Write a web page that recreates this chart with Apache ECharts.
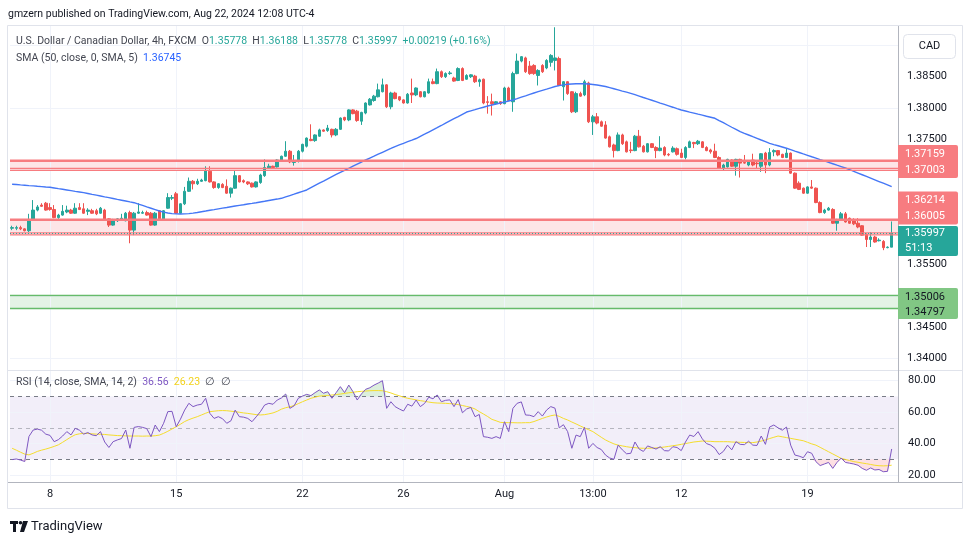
<!DOCTYPE html>
<html><head><meta charset="utf-8">
<script src="https://cdn.jsdelivr.net/npm/echarts@6/dist/echarts.min.js"></script>
<style>html,body{margin:0;padding:0;background:#fff;}#c{width:970px;height:545px;}</style>
</head><body><div id="c"></div>
<script>
// ---------- data (USD/CAD 4h, FXCM) ----------
const opens = [
1.3608,1.3608,1.3609,1.3607,1.3604,1.3622,1.3637,1.3645,1.3648,1.3641,
1.3638,1.3625,1.3629,1.3634,1.3637,1.3632,1.3641,1.3639,1.3635,1.3636,
1.3636,1.3632,1.3637,1.3623,1.3613,1.3620,1.3621,1.3620,1.3633,1.3605,
1.3632,1.3632,1.3633,1.3632,1.3613,1.3636,1.3623,1.3640,1.3656,1.3663,
1.3632,1.3647,1.3667,1.3683,1.3679,1.3683,1.3684,1.3699,1.3682,1.3673,
1.3678,1.3675,1.3664,1.3672,1.3692,1.3684,1.3682,1.3680,1.3674,1.3681,
1.3692,1.3704,1.3707,1.3706,1.3716,1.3723,1.3731,1.3713,1.3715,1.3731,
1.3739,1.3750,1.3748,1.3755,1.3765,1.3764,1.3766,1.3757,1.3766,1.3785,
1.3781,1.3797,1.3795,1.3779,1.3792,1.3805,1.3812,1.3818,1.3826,1.3837,
1.3802,1.3824,1.3818,1.3813,1.3808,1.3824,1.3821,1.3826,1.3818,1.3824,
1.3842,1.3839,1.3858,1.3850,1.3855,1.3848,1.3844,1.3863,1.3846,1.3850,
1.3851,1.3842,1.3846,1.3810,1.3810,1.3807,1.3810,1.3807,1.3832,1.3810,
1.3855,1.3875,1.3880,1.3867,1.3868,1.3852,1.3868,1.3864,1.3873,1.3876,
1.3879,1.3834,1.3842,1.3826,1.3794,1.3823,1.3821,1.3840,1.3778,1.3786,
1.3778,1.3773,1.3754,1.3741,1.3732,1.3757,1.3746,1.3733,1.3732,1.3755,
1.3739,1.3730,1.3743,1.3737,1.3732,1.3737,1.3726,1.3730,1.3735,1.3728,
1.3721,1.3737,1.3745,1.3743,1.3746,1.3737,1.3733,1.3731,1.3721,1.3704,
1.3706,1.3717,1.3707,1.3718,1.3713,1.3709,1.3717,1.3712,1.3707,1.3728,
1.3709,1.3730,1.3732,1.3726,1.3721,1.3728,1.3696,1.3680,1.3672,1.3664,
1.3674,1.3672,1.3649,1.3633,1.3637,1.3638,1.3616,1.3622,1.3631,1.3624,
1.3621,1.3616,1.3612,1.3598,1.3590,1.3594,1.3588,1.3587,1.3577,1.35778];
const closes = [
1.3609,1.3609,1.3607,1.3604,1.3622,1.3637,1.3642,1.3643,1.3637,1.3638,
1.3625,1.3629,1.3635,1.3637,1.3632,1.3640,1.3638,1.3632,1.3637,1.3632,
1.3631,1.3640,1.3622,1.3613,1.3620,1.3623,1.3624,1.3632,1.3605,1.3632,
1.3634,1.3633,1.3629,1.3613,1.3632,1.3623,1.3636,1.3657,1.3657,1.3632,
1.3647,1.3667,1.3683,1.3679,1.3683,1.3685,1.3700,1.3682,1.3673,1.3679,
1.3673,1.3664,1.3672,1.3692,1.3682,1.3682,1.3679,1.3674,1.3682,1.3693,
1.3705,1.3707,1.3705,1.3717,1.3723,1.3731,1.3714,1.3716,1.3731,1.3742,
1.3752,1.3748,1.3757,1.3765,1.3763,1.3768,1.3757,1.3766,1.3784,1.3781,
1.3797,1.3791,1.3780,1.3793,1.3808,1.3814,1.3819,1.3829,1.3837,1.3802,
1.3824,1.3815,1.3813,1.3808,1.3822,1.3821,1.3832,1.3818,1.3826,1.3842,
1.3839,1.3858,1.3850,1.3855,1.3856,1.3843,1.3863,1.3844,1.3852,1.3853,
1.3842,1.3845,1.3808,1.3809,1.3807,1.3810,1.3807,1.3832,1.3812,1.3855,
1.3875,1.3882,1.3858,1.3855,1.3855,1.3860,1.3858,1.3876,1.3884,1.3880,
1.3836,1.3842,1.3823,1.3794,1.3823,1.3819,1.3842,1.3778,1.3786,1.3776,
1.3771,1.3752,1.3738,1.3732,1.3757,1.3743,1.3730,1.3732,1.3755,1.3738,
1.3730,1.3743,1.3737,1.3732,1.3736,1.3725,1.3725,1.3736,1.3726,1.3721,
1.3737,1.3746,1.3743,1.3747,1.3737,1.3732,1.3730,1.3721,1.3704,1.3709,
1.3718,1.3707,1.3718,1.3712,1.3712,1.3716,1.3709,1.3711,1.3727,1.3709,
1.3729,1.3732,1.3725,1.3721,1.3728,1.3696,1.3672,1.3670,1.3664,1.3674,
1.3672,1.3649,1.3633,1.3637,1.3640,1.3616,1.3622,1.3631,1.3618,1.3616,
1.3615,1.3610,1.3597,1.3590,1.3594,1.3586,1.3589,1.3577,1.35778,1.35997];
const highs = [
1.3612,1.3612,1.3612,1.3608,1.3631,1.3653,1.3645,1.3648,1.3650,1.3648,
1.3645,1.3631,1.3645,1.3644,1.3639,1.3648,1.3648,1.3648,1.3640,1.3639,
1.3639,1.3642,1.3639,1.3624,1.3623,1.3624,1.3631,1.3634,1.3636,1.3634,
1.3648,1.3636,1.3636,1.3634,1.3634,1.3637,1.3637,1.3664,1.3661,1.3666,
1.3648,1.3674,1.3689,1.3685,1.3687,1.3687,1.3707,1.3707,1.3683,1.3680,
1.3680,1.3686,1.3673,1.3700,1.3693,1.3686,1.3683,1.3681,1.3683,1.3695,
1.3718,1.3711,1.3708,1.3718,1.3724,1.3747,1.3733,1.3725,1.3733,1.3743,
1.3753,1.3774,1.3758,1.3767,1.3766,1.3773,1.3767,1.3768,1.3785,1.3786,
1.3798,1.3798,1.3797,1.3794,1.3809,1.3816,1.3821,1.3839,1.3847,1.3838,
1.3826,1.3826,1.3819,1.3814,1.3824,1.3847,1.3833,1.3827,1.3827,1.3847,
1.3847,1.3863,1.3860,1.3857,1.3859,1.3850,1.3865,1.3865,1.3854,1.3854,
1.3853,1.3847,1.3847,1.3819,1.3823,1.3811,1.3811,1.3834,1.3834,1.3858,
1.3887,1.3883,1.3882,1.3875,1.3870,1.3862,1.3870,1.3878,1.3886,1.3929,
1.3882,1.3843,1.3843,1.3827,1.3826,1.3826,1.3845,1.3842,1.3789,1.3792,
1.3780,1.3779,1.3756,1.3743,1.3761,1.3759,1.3748,1.3746,1.3757,1.3765,
1.3741,1.3744,1.3744,1.3739,1.3755,1.3739,1.3728,1.3739,1.3737,1.3735,
1.3739,1.3748,1.3746,1.3749,1.3747,1.3739,1.3735,1.3743,1.3723,1.3711,
1.3719,1.3718,1.3719,1.3719,1.3725,1.3717,1.3727,1.3714,1.3728,1.3730,
1.3736,1.3734,1.3733,1.3727,1.3736,1.3729,1.3697,1.3683,1.3673,1.3675,
1.3685,1.3673,1.3651,1.3639,1.3642,1.3640,1.3623,1.3634,1.3634,1.3625,
1.3624,1.3624,1.3613,1.3600,1.3602,1.3596,1.3592,1.3589,1.3579,1.36188];
const lows = [
1.3605,1.3605,1.3605,1.3603,1.3602,1.3620,1.3635,1.3642,1.3636,1.3636,
1.3624,1.3623,1.3628,1.3632,1.3631,1.3631,1.3637,1.3631,1.3629,1.3631,
1.3629,1.3631,1.3621,1.3610,1.3612,1.3618,1.3620,1.3619,1.3584,1.3597,
1.3631,1.3631,1.3628,1.3612,1.3612,1.3621,1.3621,1.3639,1.3653,1.3631,
1.3631,1.3645,1.3666,1.3670,1.3677,1.3682,1.3683,1.3681,1.3671,1.3671,
1.3672,1.3663,1.3657,1.3671,1.3681,1.3680,1.3677,1.3673,1.3673,1.3679,
1.3690,1.3703,1.3704,1.3705,1.3715,1.3722,1.3712,1.3708,1.3713,1.3729,
1.3737,1.3747,1.3746,1.3754,1.3762,1.3762,1.3753,1.3755,1.3765,1.3779,
1.3779,1.3790,1.3778,1.3773,1.3790,1.3804,1.3810,1.3817,1.3825,1.3800,
1.3798,1.3814,1.3811,1.3807,1.3807,1.3808,1.3819,1.3817,1.3817,1.3823,
1.3838,1.3838,1.3848,1.3848,1.3853,1.3842,1.3843,1.3843,1.3845,1.3848,
1.3840,1.3834,1.3806,1.3791,1.3788,1.3805,1.3805,1.3806,1.3811,1.3794,
1.3854,1.3873,1.3856,1.3853,1.3853,1.3836,1.3856,1.3862,1.3866,1.3860,
1.3835,1.3812,1.3821,1.3792,1.3792,1.3818,1.3819,1.3776,1.3757,1.3774,
1.3770,1.3751,1.3737,1.3721,1.3731,1.3741,1.3729,1.3728,1.3731,1.3737,
1.3729,1.3729,1.3736,1.3720,1.3731,1.3723,1.3723,1.3729,1.3724,1.3720,
1.3718,1.3736,1.3736,1.3741,1.3736,1.3731,1.3727,1.3720,1.3703,1.3701,
1.3705,1.3706,1.3692,1.3689,1.3711,1.3707,1.3707,1.3704,1.3698,1.3696,
1.3707,1.3723,1.3723,1.3720,1.3720,1.3695,1.3671,1.3669,1.3663,1.3663,
1.3671,1.3648,1.3632,1.3631,1.3636,1.3615,1.3604,1.3621,1.3617,1.3615,
1.3613,1.3608,1.3596,1.3578,1.3578,1.3585,1.3587,1.3573,1.3576,1.35778];
const sma50 = [
1.36783,1.36778,1.36772,1.36767,1.36761,1.36756,1.36750,1.36745,1.36739,1.36734,
1.36723,1.36712,1.36702,1.36691,1.36680,1.36669,1.36659,1.36648,1.36635,1.36621,
1.36608,1.36595,1.36581,1.36568,1.36555,1.36541,1.36528,1.36515,1.36501,1.36488,
1.36466,1.36444,1.36421,1.36399,1.36377,1.36355,1.36337,1.36324,1.36314,1.36309,
1.36307,1.36309,1.36314,1.36322,1.36332,1.36344,1.36355,1.36367,1.36378,1.36390,
1.36401,1.36412,1.36424,1.36435,1.36446,1.36456,1.36467,1.36477,1.36488,1.36500,
1.36511,1.36523,1.36535,1.36546,1.36558,1.36580,1.36602,1.36624,1.36647,1.36669,
1.36691,1.36727,1.36763,1.36799,1.36834,1.36870,1.36906,1.36939,1.36972,1.37005,
1.37038,1.37071,1.37104,1.37137,1.37170,1.37201,1.37231,1.37262,1.37293,1.37324,
1.37354,1.37385,1.37411,1.37436,1.37462,1.37487,1.37513,1.37548,1.37582,1.37617,
1.37652,1.37686,1.37721,1.37757,1.37793,1.37829,1.37864,1.37900,1.37936,1.37955,
1.37974,1.37994,1.38013,1.38032,1.38048,1.38064,1.38080,1.38096,1.38112,1.38128,
1.38150,1.38173,1.38195,1.38218,1.38240,1.38261,1.38282,1.38302,1.38323,1.38344,
1.38358,1.38370,1.38379,1.38384,1.38387,1.38388,1.38387,1.38384,1.38376,1.38367,
1.38356,1.38344,1.38326,1.38308,1.38290,1.38271,1.38253,1.38235,1.38213,1.38191,
1.38168,1.38146,1.38124,1.38102,1.38079,1.38057,1.38035,1.38013,1.37990,1.37968,
1.37952,1.37935,1.37919,1.37902,1.37886,1.37869,1.37853,1.37836,1.37800,1.37765,
1.37729,1.37693,1.37658,1.37622,1.37595,1.37569,1.37542,1.37516,1.37489,1.37463,
1.37436,1.37416,1.37397,1.37377,1.37357,1.37335,1.37312,1.37290,1.37267,1.37245,
1.37222,1.37200,1.37177,1.37155,1.37132,1.37110,1.37087,1.37065,1.37042,1.37015,
1.36988,1.36961,1.36934,1.36907,1.36880,1.36853,1.36826,1.36799,1.36772,1.36745];
const rsi = [
29.8,30.2,29.5,28.6,44.5,48.6,49.2,48.5,46.0,45.2,
41.2,42.5,44.8,47.6,45.5,49.7,48.5,46.0,47.0,45.5,
45.0,47.6,41.0,37.5,41.2,42.3,43.2,48.6,37.0,50.3,
50.8,50.3,49.5,44.4,51.8,47.6,52.9,60.3,60.5,50.7,
55.5,61.3,65.6,63.5,64.5,65.0,68.8,59.2,56.0,57.1,
55.8,52.9,54.5,61.3,57.1,56.8,56.0,53.9,57.0,60.3,
64.5,65.6,65.0,67.7,69.0,71.5,62.4,64.0,68.8,70.2,
71.3,70.5,72.4,74.1,72.0,73.0,68.8,72.4,76.2,72.4,
77.2,73.0,67.7,71.5,74.5,75.5,77.2,78.5,80.0,62.4,
66.6,63.5,62.0,60.7,65.0,63.8,67.7,63.5,65.5,69.5,
68.5,70.9,66.6,67.5,67.8,63.5,68.0,59.6,62.0,63.0,
57.1,58.5,44.4,44.0,43.3,44.4,43.3,53.9,47.6,62.4,
65.6,66.5,58.2,58.0,57.1,60.3,57.5,61.3,63.5,62.5,
50.0,52.0,47.6,37.0,45.4,44.4,50.3,37.0,40.1,37.5,
36.2,32.7,30.8,30.0,39.0,36.0,33.5,33.8,41.0,36.5,
35.0,38.5,37.5,36.5,38.0,35.5,35.3,38.0,37.5,35.5,
41.0,45.4,44.5,47.6,43.0,40.0,39.0,37.0,33.0,35.0,
39.0,36.0,41.2,39.5,39.3,41.5,39.0,38.8,44.8,39.5,
50.5,51.8,50.0,48.5,50.5,39.0,32.7,32.0,31.0,34.8,
33.8,28.5,26.0,27.0,28.0,24.2,28.0,30.8,28.0,27.5,
27.0,26.2,24.2,23.0,24.5,23.2,23.5,22.1,22.3,36.56];
const rsiMa = [
37.0,35.8,34.5,33.3,32.8,33.8,35.0,35.8,36.5,37.3,
38.2,39.2,40.8,42.5,44.2,45.6,46.2,46.5,46.4,46.2,
46.0,45.9,45.8,45.5,45.3,45.1,45.0,44.9,44.8,44.8,
44.8,44.7,44.8,44.8,45.0,45.4,46.5,47.8,49.3,50.7,
52.3,54.0,55.2,56.2,57.1,58.2,59.3,60.3,60.6,60.9,
61.0,60.9,60.6,60.3,59.9,59.5,59.2,58.8,58.4,58.2,
58.4,58.9,59.5,60.5,61.9,62.8,63.4,64.2,65.4,66.6,
67.7,68.8,69.5,70.2,70.4,70.6,70.9,71.2,71.5,71.9,
72.3,72.6,73.0,73.2,73.4,73.6,73.7,73.7,73.6,73.0,
72.2,71.2,70.4,69.5,68.8,68.3,67.8,67.3,66.9,66.4,
66.0,65.8,65.7,65.6,65.4,65.2,64.8,64.2,63.6,63.0,
62.0,60.3,58.8,57.2,55.4,54.5,53.5,53.3,53.3,53.3,
53.2,53.2,53.3,53.3,54.0,55.0,56.0,56.9,57.7,58.2,
57.3,56.0,55.0,53.7,52.5,51.2,50.0,48.8,47.6,45.8,
44.0,42.3,41.0,39.8,39.0,38.5,38.0,37.6,37.4,37.1,
37.0,37.0,37.1,37.2,37.5,37.8,38.2,38.6,39.0,39.5,
40.0,40.5,41.0,41.3,41.6,41.5,41.4,41.2,41.2,41.2,
41.2,41.0,40.9,40.8,40.7,40.6,40.6,41.0,41.6,42.3,
43.2,44.0,44.8,44.3,43.8,43.3,42.8,42.3,41.8,40.8,
39.8,39.0,37.6,36.2,34.8,33.4,32.0,30.6,29.9,29.2,
28.5,28.1,27.6,27.2,26.7,26.2,25.9,25.8,25.9,26.23];
// time-axis tick labels, keyed by bar index
const tickLabels = {9:'8', 39:'15', 69:'22', 93:'26', 117:'Aug', 138:'13:00', 159:'12', 189:'19'};
const priceGridValues = [1.340,1.345,1.350,1.355,1.360,1.365,1.370,1.375,1.380,1.385];
const priceLabelValues = [1.340,1.345,1.355,1.375,1.380,1.385];
const rsiTickValues = [20,40,60,80];
const resistanceZone = [1.37159, 1.37037, 1.37003];
const pivotZone = [1.36214, 1.36005, 1.35973];
const supportZone = [1.35006, 1.34797];
const countdown = '51:13';

// ---------- chart ----------
const N = opens.length;
const cats = opens.map((_, i) => String(i)).concat([String(N)]);
const candles = opens.map((o, i) => [o, closes[i], lows[i], highs[i]]);
const last = N - 1;
const chg = closes[last] - closes[last - 1];
const pct = chg / closes[last - 1] * 100;
const F = 'Roboto, "Noto Sans", sans-serif';
const tickIdx = Object.keys(tickLabels).map(Number);
const vLines = tickIdx.map(i => ({xAxis: String(i)}));
const nulls = opens.map(() => null);

const chart = echarts.init(document.getElementById('c'));
const option = {
  animation: false,
  backgroundColor: '#ffffff',
  textStyle: {fontFamily: F},
  title: [
    {left: 8, top: 9, padding: 0, text: 'gmzern published on TradingView.com, Aug 22, 2024 12:08 UTC-4',
     textStyle: {fontSize: 10.5, fontWeight: 'normal', color: '#131722', fontFamily: F}},
    {left: 16, top: 36, padding: 0,
     text: '{t|U.S. Dollar / Canadian Dollar, 4h, FXCM}  {t|O}{v|' + opens[last].toFixed(5) + '}  {t|H}{v|' + highs[last].toFixed(5) +
       '}  {t|L}{v|' + lows[last].toFixed(5) + '}  {t|C}{v|' + closes[last].toFixed(5) + '}  {v|' + (chg >= 0 ? '+' : '') + chg.toFixed(5) +
       ' (' + (pct >= 0 ? '+' : '') + pct.toFixed(2) + '%)}',
     textStyle: {fontSize: 10.5, fontWeight: 'normal', fontFamily: F, rich: {
       t: {color: '#434651', fontSize: 10.5, fontFamily: F}, v: {color: '#26a69a', fontSize: 10.5, fontFamily: F}}}},
    {left: 16, top: 53, padding: 0,
     text: '{t|SMA (50, close, 0, SMA, 5)}  {b|' + sma50[last].toFixed(5) + '}',
     textStyle: {fontSize: 10.5, fontWeight: 'normal', fontFamily: F, rich: {
       t: {color: '#434651', fontSize: 10.5, fontFamily: F}, b: {color: '#2962ff', fontSize: 10.5, fontFamily: F}}}},
    {left: 16, top: 377, padding: 0,
     text: '{t|RSI (14, close, SMA, 14, 2)}  {p|' + rsi[last].toFixed(2) + '}  {y|' + rsiMa[last].toFixed(2) + '}  {t|∅}  {t|∅}',
     textStyle: {fontSize: 10.5, fontWeight: 'normal', fontFamily: F, rich: {
       t: {color: '#434651', fontSize: 10.5, fontFamily: F}, p: {color: '#7e57c2', fontSize: 10.5, fontFamily: F},
       y: {color: '#f2d21b', fontSize: 10.5, fontFamily: F}}}}
  ],
  grid: [
    {left: 10, top: 26, width: 888, height: 344},
    {left: 10, top: 371, width: 888, height: 111}
  ],
  xAxis: [
    {type: 'category', gridIndex: 0, data: cats, boundaryGap: true,
     axisLine: {show: false}, axisTick: {show: false}, axisLabel: {show: false}, splitLine: {show: false}},
    {type: 'category', gridIndex: 1, data: cats, boundaryGap: true,
     axisLine: {show: false}, axisTick: {show: false}, splitLine: {show: false},
     axisLabel: {show: true, interval: (idx) => tickLabels[idx] !== undefined, margin: 7,
       color: '#131722', fontSize: 11, fontFamily: F,
       formatter: (v) => tickLabels[Number(v)] || ''}}
  ],
  yAxis: [
    {type: 'value', gridIndex: 0, position: 'right', min: 1.33816, max: 1.3931,
     axisLine: {show: false}, splitLine: {show: false},
     axisTick: {show: false, customValues: priceGridValues},
     axisLabel: {customValues: priceLabelValues, color: '#131722', fontSize: 11, fontFamily: F, margin: 9,
       formatter: (v) => v.toFixed(5)}},
    {type: 'value', gridIndex: 1, position: 'right', min: 15.55, max: 86.16,
     axisLine: {show: false}, splitLine: {show: false},
     axisTick: {show: false, customValues: rsiTickValues},
     axisLabel: {customValues: rsiTickValues, color: '#131722', fontSize: 11, fontFamily: F, margin: 10,
       formatter: (v) => v.toFixed(2)}}
  ],
  series: [
    // grid lines (main pane)
    {type: 'line', xAxisIndex: 0, yAxisIndex: 0, data: nulls, z: 1, silent: true,
     markLine: {silent: true, symbol: 'none', label: {show: false}, animation: false, z: 1,
       lineStyle: {color: '#f0f3fa', width: 1, type: 'solid'},
       data: vLines.concat(priceGridValues.map(v => ({yAxis: v})))}},
    // zone fills
    {type: 'line', xAxisIndex: 0, yAxisIndex: 0, data: nulls, z: 2, silent: true,
     markArea: {silent: true, data: [
       [{yAxis: resistanceZone[0], itemStyle: {color: 'rgba(242,54,69,0.13)'}}, {yAxis: resistanceZone[2]}],
       [{yAxis: pivotZone[0], itemStyle: {color: 'rgba(242,54,69,0.13)'}}, {yAxis: pivotZone[2]}],
       [{yAxis: supportZone[0], itemStyle: {color: 'rgba(76,175,80,0.15)'}}, {yAxis: supportZone[1]}]
     ]}},
    {type: 'candlestick', name: 'USDCAD', xAxisIndex: 0, yAxisIndex: 0, data: candles, barWidth: 3, z: 5,
     itemStyle: {color: '#26a69a', color0: '#ef5350', borderColor: '#26a69a', borderColor0: '#ef5350', borderWidth: 1}},
    {type: 'line', name: 'SMA', xAxisIndex: 0, yAxisIndex: 0, data: sma50, symbol: 'none', z: 6,
     lineStyle: {color: '#4577f6', width: 1.4}},
    // RSI pane
    {type: 'line', xAxisIndex: 1, yAxisIndex: 1, data: nulls, z: 1, silent: true,
     markLine: {silent: true, symbol: 'none', label: {show: false}, animation: false, z: 1,
       lineStyle: {color: '#f0f3fa', width: 1, type: 'solid'},
       data: vLines.concat(rsiTickValues.map(v => ({yAxis: v})))}},
    {type: 'line', xAxisIndex: 1, yAxisIndex: 1, data: nulls, z: 2, silent: true,
     markArea: {silent: true, data: [[{yAxis: 70, itemStyle: {color: 'rgba(126,87,194,0.1)'}}, {yAxis: 30}]]}},
    {type: 'line', xAxisIndex: 1, yAxisIndex: 1, data: nulls, z: 2, silent: true,
     markLine: {silent: true, symbol: 'none', label: {show: false}, animation: false,
       lineStyle: {color: '#787b86', width: 1, type: [4, 4]}, data: [{yAxis: 70}, {yAxis: 30}]}},
    {type: 'line', xAxisIndex: 1, yAxisIndex: 1, data: nulls, z: 2, silent: true,
     markLine: {silent: true, symbol: 'none', label: {show: false}, animation: false,
       lineStyle: {color: 'rgba(120,123,134,0.5)', width: 1, type: [4, 4]}, data: [{yAxis: 50}]}},
    {type: 'line', xAxisIndex: 1, yAxisIndex: 1, stack: 'ob', data: rsi.map(() => 70), symbol: 'none', z: 3, silent: true,
     lineStyle: {opacity: 0}},
    {type: 'line', xAxisIndex: 1, yAxisIndex: 1, stack: 'ob', data: rsi.map(v => Math.max(v - 70, 0)), symbol: 'none', z: 3, silent: true,
     lineStyle: {opacity: 0}, areaStyle: {color: 'rgba(76,175,80,0.28)'}},
    {type: 'line', xAxisIndex: 1, yAxisIndex: 1, stack: 'os', data: rsi.map(v => Math.min(v, 30)), symbol: 'none', z: 3, silent: true,
     lineStyle: {opacity: 0}},
    {type: 'line', xAxisIndex: 1, yAxisIndex: 1, stack: 'os', data: rsi.map(v => 30 - Math.min(v, 30)), symbol: 'none', z: 3, silent: true,
     lineStyle: {opacity: 0}, areaStyle: {color: 'rgba(242,54,69,0.22)'}},
    {type: 'line', name: 'RSI MA', xAxisIndex: 1, yAxisIndex: 1, data: rsiMa, symbol: 'none', z: 5,
     lineStyle: {color: '#f5dd2c', width: 1}},
    {type: 'line', name: 'RSI', xAxisIndex: 1, yAxisIndex: 1, data: rsi, symbol: 'none', z: 6,
     lineStyle: {color: '#7e57c2', width: 1}}
  ]
};
chart.setOption(option);

// ---------- zone lines, frame, price tags, logo (positions from the y scale) ----------
const yPx = v => chart.convertToPixel({yAxisIndex: 0}, v);
const TF = '11px ' + F;
function hline(v, color, width, dash) {
  const y = yPx(v);
  return {type: 'line', z: 30, silent: true, shape: {x1: 10, y1: y, x2: 898, y2: y},
    style: {stroke: color, lineWidth: width, lineDash: dash || null}};
}
function tag(top, h, fill, lines, color) {
  const els = [{type: 'rect', z: 50, shape: {x: 898, y: top, width: 60, height: h, r: [0, 2, 2, 0]}, style: {fill: fill}}];
  lines.forEach(([txt, cy]) => els.push({type: 'text', z: 51, x: 905, y: cy,
    style: {text: txt, fill: color, font: TF, verticalAlign: 'middle', textVerticalAlign: 'middle'}}));
  return els;
}
const r1 = yPx(resistanceZone[2]);
const tc = yPx(closes[last]);
const tealTop = tc - 7.5;
const r2Top = tealTop - 34.5;
const gy = yPx(supportZone[0]);
let g = [
  hline(resistanceZone[0], '#f77c80', 2.5),
  hline(resistanceZone[1], '#f77c80', 1.2),
  hline(resistanceZone[2], '#f77c80', 1.2),
  hline(pivotZone[0], '#f77c80', 2.5),
  hline(pivotZone[1], '#f77c80', 1.2),
  hline(pivotZone[2], '#f77c80', 1.2),
  hline(supportZone[0], '#66bb6a', 1.5),
  hline(supportZone[1], '#66bb6a', 1.5),
  hline(closes[last], '#26a69a', 1, [1, 2]),
  {type: 'rect', z: 40, shape: {x: 7.5, y: 25.5, width: 955, height: 483}, style: {fill: 'none', stroke: '#e0e3eb', lineWidth: 1}},
  {type: 'line', z: 40, shape: {x1: 8, y1: 370.5, x2: 962, y2: 370.5}, style: {stroke: '#e0e3eb', lineWidth: 1}},
  {type: 'line', z: 40, shape: {x1: 8, y1: 482.5, x2: 962, y2: 482.5}, style: {stroke: '#b2b5be', lineWidth: 1}},
  {type: 'line', z: 40, shape: {x1: 898.5, y1: 26, x2: 898.5, y2: 482}, style: {stroke: '#b2b5be', lineWidth: 1}},
  {type: 'rect', z: 50, shape: {x: 903.5, y: 34.5, width: 52, height: 24, r: 4}, style: {fill: '#fff', stroke: '#e0e3eb', lineWidth: 1}},
  {type: 'text', z: 51, x: 929.5, y: 46.5, style: {text: 'CAD', fill: '#131722', font: TF, align: 'center', textAlign: 'center', verticalAlign: 'middle', textVerticalAlign: 'middle'}},
  // TradingView logo
  {type: 'rect', z: 51, shape: {x: 10, y: 521, width: 8, height: 3}, style: {fill: '#131722'}},
  {type: 'rect', z: 51, shape: {x: 13, y: 521, width: 3, height: 11}, style: {fill: '#131722'}},
  {type: 'circle', z: 51, shape: {cx: 20.5, cy: 522.8, r: 1.8}, style: {fill: '#131722'}},
  {type: 'polygon', z: 51, shape: {points: [[23, 521], [28, 521], [24, 532], [20, 532]]}, style: {fill: '#131722'}},
  {type: 'text', z: 51, x: 31, y: 527, style: {text: 'TradingView', fill: '#131722', font: '13px ' + F, verticalAlign: 'middle', textVerticalAlign: 'middle'}}
];
g = g.concat(tag(r1 - 25.5, 33, '#f77c80', [[resistanceZone[0].toFixed(5), r1 - 16], [resistanceZone[2].toFixed(5), r1]], '#ffffff'));
g = g.concat(tag(r2Top, 33, '#f77c80', [[pivotZone[0].toFixed(5), r2Top + 8.5], [pivotZone[1].toFixed(5), r2Top + 24.5]], '#ffffff'));
g = g.concat(tag(tealTop, 30, '#26a69a', [[closes[last].toFixed(5), tc], [countdown, tc + 15]], '#ffffff'));
g = g.concat(tag(gy - 7.5, 31, '#81c784', [[supportZone[0].toFixed(5), gy + 1.3], [supportZone[1].toFixed(5), gy + 17]], '#131722'));
chart.setOption({graphic: g});
</script></body></html>
